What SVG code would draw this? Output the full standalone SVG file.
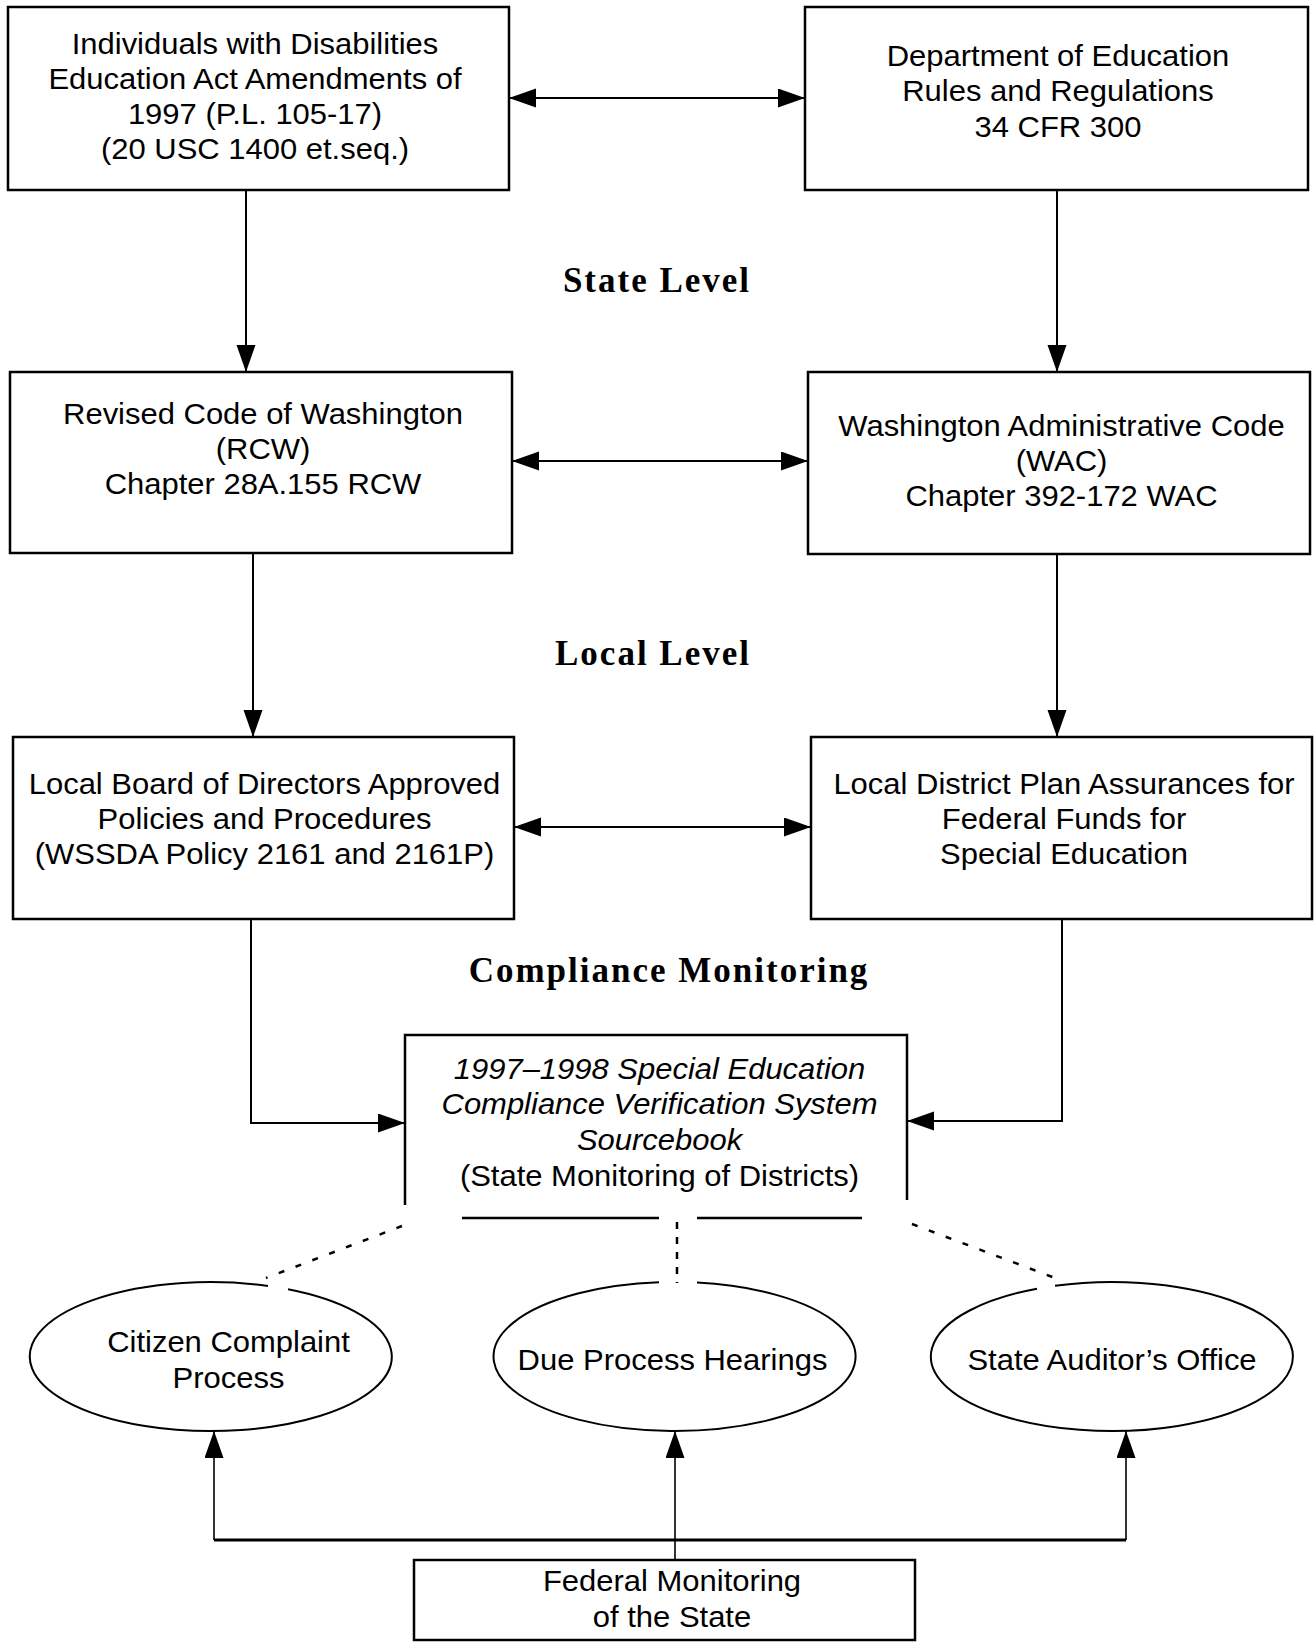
<svg xmlns="http://www.w3.org/2000/svg" width="1316" height="1642" viewBox="0 0 1316 1642">
<style>
.box{fill:#fff;stroke:#000;stroke-width:2.5}
.t{font-family:"Liberation Sans",Arial,sans-serif;font-size:29.5px;text-anchor:middle;fill:#000}
.it{font-style:italic}
.h{font-family:"Liberation Serif","Times New Roman",serif;font-size:35px;font-weight:bold;letter-spacing:2px;text-anchor:middle;fill:#000}
.c{fill:none;stroke:#000;stroke-width:2}
.thin{fill:none;stroke:#000;stroke-width:1.6}
.dash{fill:none;stroke:#000;stroke-width:2.5;stroke-dasharray:6 12}
</style>
<defs>
<marker id="ah" markerUnits="userSpaceOnUse" markerWidth="28" markerHeight="20" refX="27" refY="9.5" orient="auto-start-reverse">
<path d="M0,0 L27,9.5 L0,19 Z" fill="#000"/>
</marker>
</defs>
<rect width="1316" height="1642" fill="#fff"/>

<g id="connectors">
<line class="c" x1="509" y1="98" x2="805" y2="98" marker-start="url(#ah)" marker-end="url(#ah)"/>
<line class="c" x1="512" y1="461" x2="808" y2="461" marker-start="url(#ah)" marker-end="url(#ah)"/>
<line class="c" x1="514" y1="827" x2="811" y2="827" marker-start="url(#ah)" marker-end="url(#ah)"/>
<line class="c" x1="246" y1="190" x2="246" y2="372" marker-end="url(#ah)"/>
<line class="c" x1="1057" y1="190" x2="1057" y2="372" marker-end="url(#ah)"/>
<line class="c" x1="253" y1="553" x2="253" y2="737" marker-end="url(#ah)"/>
<line class="c" x1="1057" y1="554" x2="1057" y2="737" marker-end="url(#ah)"/>
<polyline class="c" points="251,919 251,1123 405,1123" marker-end="url(#ah)"/>
<polyline class="c" points="1062,919 1062,1121 907,1121" marker-end="url(#ah)"/>
<line class="dash" x1="402" y1="1226" x2="266" y2="1278"/>
<line class="dash" x1="912" y1="1224" x2="1055" y2="1278"/>
<line fill="none" stroke="#000" stroke-width="2.5" stroke-dasharray="7 8" x1="677" y1="1222" x2="677" y2="1283"/>
<polyline fill="none" stroke="#000" stroke-width="3" points="214,1540 1126,1540"/>
<line class="thin" x1="214" y1="1540" x2="214" y2="1431" marker-end="url(#ah)"/>
<line class="thin" x1="675" y1="1560" x2="675" y2="1431" marker-end="url(#ah)"/>
<line class="thin" x1="1126" y1="1540" x2="1126" y2="1431" marker-end="url(#ah)"/>
</g>

<g id="idea">
<rect class="box" x="8" y="7" width="501" height="183"/>
<g transform="translate(255,0) scale(1.05,1)">
<text class="t" x="0" y="54">Individuals with Disabilities</text>
<text class="t" x="0" y="89">Education Act Amendments of</text>
<text class="t" x="0" y="124">1997 (P.L. 105-17)</text>
<text class="t" x="0" y="159">(20 USC 1400 et.seq.)</text>
</g>
</g>

<g id="doe">
<rect class="box" x="805" y="7" width="503" height="183"/>
<g transform="translate(1058,0) scale(1.05,1)">
<text class="t" x="0" y="66">Department of Education</text>
<text class="t" x="0" y="101">Rules and Regulations</text>
<text class="t" x="0" y="137">34 CFR 300</text>
</g>
</g>

<text class="h" x="657" y="292">State Level</text>

<g id="rcw">
<rect class="box" x="10" y="372" width="502" height="181"/>
<g transform="translate(263,0) scale(1.05,1)">
<text class="t" x="0" y="424">Revised Code of Washington</text>
<text class="t" x="0" y="459">(RCW)</text>
<text class="t" x="0" y="494">Chapter 28A.155 RCW</text>
</g>
</g>

<g id="wac">
<rect class="box" x="808" y="372" width="502" height="182"/>
<g transform="translate(1061.5,0) scale(1.05,1)">
<text class="t" x="0" y="436">Washington Administrative Code</text>
<text class="t" x="0" y="471">(WAC)</text>
<text class="t" x="0" y="506">Chapter 392-172 WAC</text>
</g>
</g>

<text class="h" x="653" y="665">Local Level</text>

<g id="board">
<rect class="box" x="13" y="737" width="501" height="182"/>
<g transform="translate(264.5,0) scale(1.05,1)">
<text class="t" x="0" y="794">Local Board of Directors Approved</text>
<text class="t" x="0" y="829">Policies and Procedures</text>
<text class="t" x="0" y="864">(WSSDA Policy 2161 and 2161P)</text>
</g>
</g>

<g id="plan">
<rect class="box" x="811" y="737" width="501" height="182"/>
<g transform="translate(1064,0) scale(1.05,1)">
<text class="t" x="0" y="794">Local District Plan Assurances for</text>
<text class="t" x="0" y="829">Federal Funds for</text>
<text class="t" x="0" y="864">Special Education</text>
</g>
</g>

<text class="h" x="669" y="982">Compliance Monitoring</text>

<g id="sourcebook">
<path d="M405,1205 V1035 H907 V1200" fill="#fff" stroke="#000" stroke-width="2.5"/>
<line x1="462" y1="1218" x2="659" y2="1218" stroke="#000" stroke-width="2.5"/>
<line x1="697" y1="1218" x2="862" y2="1218" stroke="#000" stroke-width="2.5"/>
<g transform="translate(659.5,0) scale(1.05,1)">
<text class="t it" x="0" y="1079">1997–1998 Special Education</text>
<text class="t it" x="0" y="1114">Compliance Verification System</text>
<text class="t it" x="0" y="1150">Sourcebook</text>
<text class="t" x="0" y="1186">(State Monitoring of Districts)</text>
</g>
</g>

<g id="citizen">
<path d="M268,1285.9 A181,74.5 0 1 0 288,1289.2" fill="none" stroke="#000" stroke-width="2"/>
<g transform="translate(228.5,0) scale(1.05,1)">
<text class="t" x="0" y="1352">Citizen Complaint</text>
<text class="t" x="0" y="1388">Process</text>
</g>
</g>

<g id="dueprocess">
<path d="M659,1282.3 A181,74.5 0 1 0 697,1282.6" fill="none" stroke="#000" stroke-width="2"/>
<g transform="translate(672.5,0) scale(1.05,1)">
<text class="t" x="0" y="1370">Due Process Hearings</text>
</g>
</g>

<g id="auditor">
<path d="M1037,1288.7 A181,74.5 0 1 0 1055,1285.8" fill="none" stroke="#000" stroke-width="2"/>
<g transform="translate(1112,0) scale(1.05,1)">
<text class="t" x="0" y="1370">State Auditor’s Office</text>
</g>
</g>

<g id="federal">
<rect class="box" x="414" y="1560" width="501" height="80"/>
<g transform="translate(672,0) scale(1.05,1)">
<text class="t" x="0" y="1591">Federal Monitoring</text>
<text class="t" x="0" y="1627">of the State</text>
</g>
</g>
</svg>
